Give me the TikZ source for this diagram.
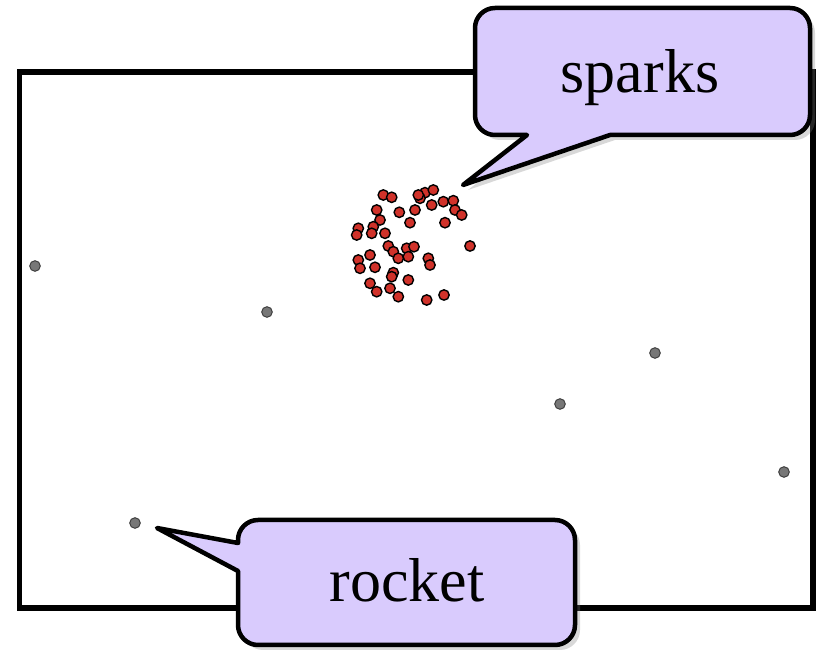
\documentclass[tikz,border=0pt]{standalone}
\usepackage{fontspec}
\setmainfont{Liberation Serif}
\usetikzlibrary{shadows}
\definecolor{callfill}{HTML}{D9CBFD}
\definecolor{sparkred}{HTML}{D0322A}
\definecolor{rocketgray}{HTML}{777777}
\begin{document}
\begin{tikzpicture}[x=1pt,y=1pt,
  framebox/.style={line width=5.5pt,line join=miter},
  callout/.style={fill=callfill,draw=black,line width=4.5pt,line join=round,
     drop shadow={opacity=0.3,shadow xshift=5pt,shadow yshift=-5pt}},
  spark/.style={fill=sparkred,draw=black,line width=1.4pt},
  rocketdot/.style={fill=rocketgray,draw=black!75,line width=1pt},
  label/.style={font=\fontsize{62}{70}\selectfont,anchor=base,inner sep=0pt}]
\useasboundingbox (0,0) rectangle (819,650);
\fill[white] (0,0) rectangle (819,650);
% frame
\draw[framebox] (19.5,42) rectangle (813,578);
% rocket dots (gray)
\foreach \x/\y in {35/266,267/312,655/353,560/404,784/472,135/523}
  \draw[rocketdot] (\x,650-\y) circle (5.3);
\coordinate (rocket) at (135,127);
% sparks (red)
\foreach \x/\y in {383.3/195,391.7/197.3,425/192.7,433.3/190,420/198.3,418.3/195,431.7/205,443.3/201.7,453.3/200.7,455/210,461.7/215,415/210,399.3/212.3,376.7/210,380/220,410/222.7,445/222.7,358.3/228.3,356.7/235,373.3/226.7,371.7/233.3,385/233.3,470/246,388.3/246,393.3/251.7,398.3/258.3,406.7/248.3,414/246.7,408.3/256.7,428.3/258.3,430/265,370/255,358.3/260,360/268.3,375/267.3,393.3/272.7,391.7/276.7,408.3/280,370/283.3,376.7/291.7,390/288.3,398.3/296.7,426.7/300,444/295}
  \draw[spark] (\x,650-\y) circle (5.2);
\coordinate (sparkcluster) at (410,405);
% sparks callout
\draw[callout] (495,642) -- (790,642) arc[start angle=90,end angle=0,radius=20]
  -- (810,535) arc[start angle=0,end angle=-90,radius=20]
  -- (610,515) -- (463,465) -- (527,515) -- (495,515)
  arc[start angle=270,end angle=180,radius=20]
  -- (475,622) arc[start angle=180,end angle=90,radius=20] -- cycle;
\node[label] (sparkslabel) at (640,557) {sparks};
% rocket callout
\draw[callout] (258,130) -- (555,130) arc[start angle=90,end angle=0,radius=20]
  -- (575,25) arc[start angle=0,end angle=-90,radius=20]
  -- (258,5) arc[start angle=270,end angle=180,radius=20]
  -- (238,79) -- (157,122) -- (238,107) -- (238,110)
  arc[start angle=180,end angle=90,radius=20] -- cycle;
\node[label] (rocketlabel) at (407,48) {rocket};
\end{tikzpicture}
\end{document}
